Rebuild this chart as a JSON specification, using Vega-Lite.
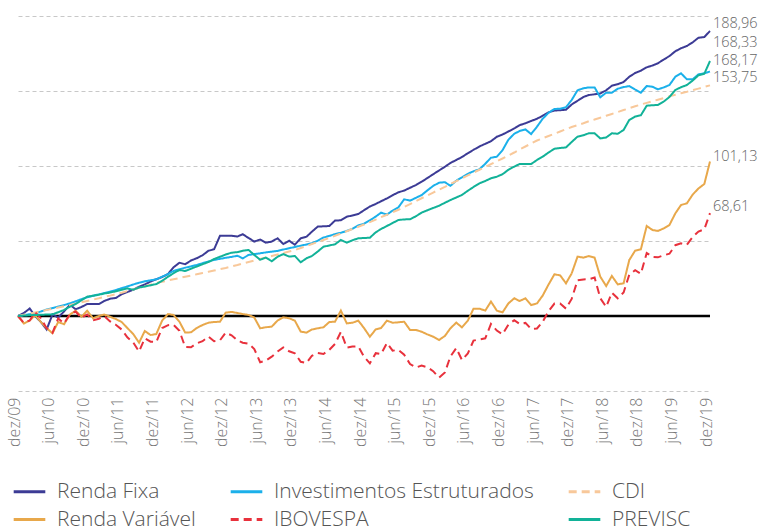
{
"$schema": "https://vega.github.io/schema/vega-lite/v6.json",
"width": 692, "height": 375,
"autosize": {"type": "none"},
"padding": {"left": 18, "top": 16, "right": 62, "bottom": 140},
"background": "white",
"config": {"view": {"stroke": null}, "font": "Open Sans", "axisX": {"labelOverlap": false, "labelBound": false, "labelFlush": false}},
"encoding": {
  "x": {"field": "d", "type": "temporal",
        "scale": {"type": "utc", "nice": false, "domain": [1259625600000, 1575158400000]},
        "axis": {"title": null, "grid": false, "domain": false, "ticks": false, "tickSize": 0,
                 "values": [1259625600000, 1275350400000, 1291161600000, 1306886400000, 1322697600000, 1338508800000, 1354320000000, 1370044800000, 1385856000000, 1401580800000, 1417392000000, 1433116800000, 1448928000000, 1464739200000, 1480550400000, 1496275200000, 1512086400000, 1527811200000, 1543622400000, 1559347200000, 1575158400000],
                 "labelExpr": "(utcmonth(datum.value) == 11 ? 'dez' : 'jun') + '/' + utcFormat(datum.value, '%y')",
                 "labelAngle": -90, "labelPadding": 6, "labelOffset": -4, "labelFont": "Open Sans", "labelFontSize": 16, "labelFontWeight": 300, "labelColor": "#777777", "labelOverlap": false, "labelFlush": false, "labelBound": false, "labelSeparation": 0}}
},
"layer": [
{"data": {"values": [{"d": "2009-12", "d2": "2019-12"}]},
 "mark": {"type": "rule", "color": "#000000", "strokeWidth": 2.5},
 "encoding": {"x2": {"field": "d2"}, "y": {"datum": 0, "type": "quantitative"}}},
{"data": {"values": [
{"d":"2009-12","rf":0,"ie":0,"cdi":0,"rv":0,"ibov":0,"prev":0},
{"d":"2010-01","rf":2,"ie":0.6,"cdi":0.8,"rv":-5,"ibov":-4.6,"prev":0.3},
{"d":"2010-02","rf":5,"ie":1.2,"cdi":1.6,"rv":-3,"ibov":-3.0,"prev":0.5},
{"d":"2010-03","rf":0,"ie":1.8,"cdi":2.4,"rv":0.5,"ibov":2.6,"prev":0.7},
{"d":"2010-04","rf":-4,"ie":3,"cdi":3.2,"rv":-4,"ibov":-1.5,"prev":0.8},
{"d":"2010-05","rf":-9,"ie":4.3,"cdi":4.0,"rv":-8,"ibov":-8.1,"prev":1},
{"d":"2010-06","rf":1,"ie":5.3,"cdi":4.8,"rv":-11.5,"ibov":-11.2,"prev":1.1},
{"d":"2010-07","rf":-1,"ie":6.3,"cdi":5.6,"rv":-4,"ibov":-1.6,"prev":2.5},
{"d":"2010-08","rf":3,"ie":7.3,"cdi":6.5,"rv":-5.5,"ibov":-5.0,"prev":4},
{"d":"2010-09","rf":7.5,"ie":8.4,"cdi":7.3,"rv":1,"ibov":1.2,"prev":6.2},
{"d":"2010-10","rf":4.5,"ie":9.8,"cdi":8.2,"rv":3.5,"ibov":3.0,"prev":8},
{"d":"2010-11","rf":6,"ie":11.2,"cdi":9.1,"rv":-0.5,"ibov":-1.3,"prev":10.5},
{"d":"2010-12","rf":8,"ie":12.5,"cdi":10.0,"rv":3.5,"ibov":1.0,"prev":12.9},
{"d":"2011-01","rf":8,"ie":13.5,"cdi":10.9,"rv":-1.5,"ibov":-2.9,"prev":13.5},
{"d":"2011-02","rf":8,"ie":14.4,"cdi":11.8,"rv":0,"ibov":-1.8,"prev":14.2},
{"d":"2011-03","rf":10,"ie":15.3,"cdi":12.7,"rv":1,"ibov":0.0,"prev":15},
{"d":"2011-04","rf":11.5,"ie":16.2,"cdi":13.6,"rv":-0.5,"ibov":-3.6,"prev":15.6},
{"d":"2011-05","rf":12,"ie":17.3,"cdi":14.6,"rv":-2,"ibov":-5.8,"prev":16.5},
{"d":"2011-06","rf":14.5,"ie":18.6,"cdi":15.5,"rv":-4,"ibov":-9.0,"prev":17.5},
{"d":"2011-07","rf":16,"ie":19.7,"cdi":16.6,"rv":-8,"ibov":-14.2,"prev":18.4},
{"d":"2011-08","rf":17.5,"ie":21,"cdi":17.7,"rv":-12,"ibov":-17.6,"prev":17.5},
{"d":"2011-09","rf":19.5,"ie":22.2,"cdi":18.8,"rv":-17.8,"ibov":-23.7,"prev":19},
{"d":"2011-10","rf":21,"ie":23.1,"cdi":19.8,"rv":-10,"ibov":-14.9,"prev":19.6},
{"d":"2011-11","rf":23,"ie":23.8,"cdi":20.9,"rv":-12.7,"ibov":-17.1,"prev":20.5},
{"d":"2011-12","rf":24.5,"ie":24.4,"cdi":22.0,"rv":-12,"ibov":-17.3,"prev":21.3},
{"d":"2012-01","rf":26,"ie":26.2,"cdi":22.8,"rv":-3,"ibov":-8.0,"prev":23.5},
{"d":"2012-02","rf":28,"ie":28,"cdi":23.7,"rv":1.3,"ibov":-6.1,"prev":26.2},
{"d":"2012-03","rf":32.5,"ie":30,"cdi":24.5,"rv":0.7,"ibov":-5.9,"prev":28.5},
{"d":"2012-04","rf":35.5,"ie":31.2,"cdi":25.3,"rv":-3.8,"ibov":-9.9,"prev":30.7},
{"d":"2012-05","rf":34.5,"ie":32.2,"cdi":26.2,"rv":-11,"ibov":-20.6,"prev":30},
{"d":"2012-06","rf":37,"ie":33.1,"cdi":27.0,"rv":-10.9,"ibov":-20.8,"prev":31.5},
{"d":"2012-07","rf":38.5,"ie":34,"cdi":27.8,"rv":-8,"ibov":-18.2,"prev":33},
{"d":"2012-08","rf":40.5,"ie":35.2,"cdi":28.7,"rv":-6,"ibov":-16.8,"prev":34.5},
{"d":"2012-09","rf":43.5,"ie":36.3,"cdi":29.5,"rv":-4.5,"ibov":-13.7,"prev":36},
{"d":"2012-10","rf":44.5,"ie":37.4,"cdi":30.3,"rv":-4,"ibov":-16.8,"prev":38},
{"d":"2012-11","rf":53.5,"ie":38.1,"cdi":31.2,"rv":-3.8,"ibov":-16.2,"prev":39.5},
{"d":"2012-12","rf":53.5,"ie":38.8,"cdi":32.0,"rv":2.2,"ibov":-11.1,"prev":41},
{"d":"2013-01","rf":53.5,"ie":39.4,"cdi":33.0,"rv":2.7,"ibov":-12.9,"prev":42.2},
{"d":"2013-02","rf":53,"ie":40.2,"cdi":34.0,"rv":2,"ibov":-16.3,"prev":42.6},
{"d":"2013-03","rf":54.5,"ie":38.4,"cdi":35.0,"rv":1.3,"ibov":-17.8,"prev":43.5},
{"d":"2013-04","rf":52,"ie":40.7,"cdi":36.0,"rv":0.7,"ibov":-18.5,"prev":44},
{"d":"2013-05","rf":49.6,"ie":41.3,"cdi":37.0,"rv":-1,"ibov":-22.0,"prev":40.7},
{"d":"2013-06","rf":51,"ie":41.8,"cdi":38.0,"rv":-8.2,"ibov":-30.8,"prev":37.5},
{"d":"2013-07","rf":48.9,"ie":42.4,"cdi":39.0,"rv":-7.5,"ibov":-29.7,"prev":39},
{"d":"2013-08","rf":49.6,"ie":42.9,"cdi":40.0,"rv":-7.1,"ibov":-27.1,"prev":36.5},
{"d":"2013-09","rf":51.8,"ie":43.4,"cdi":41.0,"rv":-3,"ibov":-23.7,"prev":39.5},
{"d":"2013-10","rf":48,"ie":44.3,"cdi":42.0,"rv":-0.9,"ibov":-20.9,"prev":41.3},
{"d":"2013-11","rf":50.2,"ie":45.2,"cdi":43.0,"rv":-1.5,"ibov":-23.5,"prev":39.6},
{"d":"2013-12","rf":47.5,"ie":46,"cdi":44.0,"rv":-3.1,"ibov":-24.9,"prev":40},
{"d":"2014-01","rf":51.8,"ie":46.9,"cdi":45.3,"rv":-10.4,"ibov":-30.5,"prev":35.8},
{"d":"2014-02","rf":52.9,"ie":47.7,"cdi":46.6,"rv":-11.1,"ibov":-31.3,"prev":38.5},
{"d":"2014-03","rf":56.2,"ie":48.5,"cdi":48.0,"rv":-9,"ibov":-26.5,"prev":40},
{"d":"2014-04","rf":59.6,"ie":50.2,"cdi":49.3,"rv":-8.2,"ibov":-24.7,"prev":43},
{"d":"2014-05","rf":59.8,"ie":52.3,"cdi":50.7,"rv":-7.5,"ibov":-25.3,"prev":46.2},
{"d":"2014-06","rf":60,"ie":53.4,"cdi":52.0,"rv":-4,"ibov":-22.5,"prev":47},
{"d":"2014-07","rf":63.6,"ie":54.6,"cdi":53.5,"rv":-3.8,"ibov":-18.6,"prev":47.8},
{"d":"2014-08","rf":63.8,"ie":55.5,"cdi":55.0,"rv":3.6,"ibov":-10.6,"prev":50.7},
{"d":"2014-09","rf":66.2,"ie":56.7,"cdi":56.5,"rv":-4.9,"ibov":-21.1,"prev":48.9},
{"d":"2014-10","rf":67,"ie":58.1,"cdi":58.0,"rv":-4.5,"ibov":-20.4,"prev":50.5},
{"d":"2014-11","rf":68,"ie":60.4,"cdi":59.5,"rv":-3.1,"ibov":-20.2,"prev":51.8},
{"d":"2014-12","rf":70.5,"ie":61.5,"cdi":61.0,"rv":-8,"ibov":-27.1,"prev":52},
{"d":"2015-01","rf":73,"ie":63.8,"cdi":62.6,"rv":-13.8,"ibov":-31.6,"prev":52.2},
{"d":"2015-02","rf":74.7,"ie":66.3,"cdi":64.3,"rv":-8.9,"ibov":-24.8,"prev":55.8},
{"d":"2015-03","rf":76.5,"ie":68.9,"cdi":65.9,"rv":-8,"ibov":-25.4,"prev":58},
{"d":"2015-04","rf":78.4,"ie":67.6,"cdi":67.5,"rv":-3.1,"ibov":-18.0,"prev":60},
{"d":"2015-05","rf":80.5,"ie":70.3,"cdi":69.2,"rv":-4.5,"ibov":-23.1,"prev":62},
{"d":"2015-06","rf":82.5,"ie":72.5,"cdi":70.8,"rv":-4.2,"ibov":-22.6,"prev":64},
{"d":"2015-07","rf":83.6,"ie":77.8,"cdi":72.7,"rv":-3.8,"ibov":-25.8,"prev":64.4},
{"d":"2015-08","rf":85.5,"ie":76.9,"cdi":74.6,"rv":-9.3,"ibov":-32.0,"prev":64.5},
{"d":"2015-09","rf":87.3,"ie":78.8,"cdi":76.6,"rv":-9.3,"ibov":-34.3,"prev":66.5},
{"d":"2015-10","rf":89.5,"ie":80.6,"cdi":78.5,"rv":-10.5,"ibov":-33.1,"prev":68.9},
{"d":"2015-11","rf":92,"ie":83.8,"cdi":80.4,"rv":-12.3,"ibov":-34.2,"prev":70.5},
{"d":"2015-12","rf":94.5,"ie":86.7,"cdi":82.3,"rv":-13.8,"ibov":-36.8,"prev":72},
{"d":"2016-01","rf":97,"ie":88.9,"cdi":84.2,"rv":-16,"ibov":-41.1,"prev":73.5},
{"d":"2016-02","rf":99.5,"ie":89.2,"cdi":86.1,"rv":-13.3,"ibov":-37.6,"prev":75.5},
{"d":"2016-03","rf":102,"ie":86.8,"cdi":88.0,"rv":-8.2,"ibov":-27.0,"prev":77.3},
{"d":"2016-04","rf":104,"ie":90.2,"cdi":89.9,"rv":-4.4,"ibov":-21.4,"prev":79},
{"d":"2016-05","rf":106,"ie":92.4,"cdi":91.8,"rv":-7.6,"ibov":-29.3,"prev":80.7},
{"d":"2016-06","rf":108.5,"ie":94.8,"cdi":93.7,"rv":-3.1,"ibov":-24.9,"prev":83.5},
{"d":"2016-07","rf":110.8,"ie":96.5,"cdi":95.6,"rv":4.9,"ibov":-16.4,"prev":86},
{"d":"2016-08","rf":113,"ie":97.8,"cdi":97.5,"rv":4.9,"ibov":-15.6,"prev":88.4},
{"d":"2016-09","rf":114.8,"ie":101.5,"cdi":99.4,"rv":3.6,"ibov":-14.9,"prev":90},
{"d":"2016-10","rf":116.5,"ie":105.5,"cdi":101.3,"rv":9.6,"ibov":-5.3,"prev":91.8},
{"d":"2016-11","rf":119.5,"ie":106.2,"cdi":103.2,"rv":3.6,"ibov":-9.7,"prev":92.9},
{"d":"2016-12","rf":121,"ie":110.5,"cdi":105.0,"rv":2.4,"ibov":-12.2,"prev":94.5},
{"d":"2017-01","rf":123,"ie":117.5,"cdi":107.0,"rv":8.4,"ibov":-5.7,"prev":97.5},
{"d":"2017-02","rf":125,"ie":121.5,"cdi":109.0,"rv":11.8,"ibov":-2.8,"prev":99.6},
{"d":"2017-03","rf":127.2,"ie":123.3,"cdi":111.0,"rv":10,"ibov":-5.3,"prev":101.3},
{"d":"2017-04","rf":128.5,"ie":124.4,"cdi":113.0,"rv":11.8,"ibov":-4.6,"prev":101.3},
{"d":"2017-05","rf":130,"ie":121.3,"cdi":115.0,"rv":7.3,"ibov":-8.6,"prev":101.3},
{"d":"2017-06","rf":131.5,"ie":126.2,"cdi":117.0,"rv":8.4,"ibov":-8.3,"prev":104},
{"d":"2017-07","rf":133.5,"ie":131.5,"cdi":118.5,"rv":13.6,"ibov":-3.9,"prev":106.2},
{"d":"2017-08","rf":135.8,"ie":135.5,"cdi":120.0,"rv":21,"ibov":3.3,"prev":109},
{"d":"2017-09","rf":137,"ie":138,"cdi":121.5,"rv":27.8,"ibov":8.3,"prev":111.5},
{"d":"2017-10","rf":137.2,"ie":138.2,"cdi":123.0,"rv":27.1,"ibov":8.3,"prev":112},
{"d":"2017-11","rf":137.5,"ie":139.2,"cdi":124.5,"rv":21.8,"ibov":4.9,"prev":112.4},
{"d":"2017-12","rf":141,"ie":144,"cdi":126.0,"rv":28.4,"ibov":11.4,"prev":116},
{"d":"2018-01","rf":143.5,"ie":150.5,"cdi":127.2,"rv":39.6,"ibov":23.8,"prev":119.6},
{"d":"2018-02","rf":146,"ie":151.8,"cdi":128.5,"rv":38.9,"ibov":24.4,"prev":120.5},
{"d":"2018-03","rf":147.3,"ie":152.4,"cdi":129.8,"rv":40,"ibov":24.5,"prev":121.8},
{"d":"2018-04","rf":147.8,"ie":152.4,"cdi":131.0,"rv":38.9,"ibov":25.6,"prev":121.8},
{"d":"2018-05","rf":148.3,"ie":145.8,"cdi":132.2,"rv":26.2,"ibov":11.9,"prev":118.4},
{"d":"2018-06","rf":150.5,"ie":148.9,"cdi":133.5,"rv":20,"ibov":6.1,"prev":119},
{"d":"2018-07","rf":153.5,"ie":148.9,"cdi":134.7,"rv":26.7,"ibov":15.5,"prev":121.8},
{"d":"2018-08","rf":154.5,"ie":151.5,"cdi":136.0,"rv":21.1,"ibov":11.8,"prev":121.5},
{"d":"2018-09","rf":156,"ie":152.6,"cdi":137.3,"rv":21.8,"ibov":15.7,"prev":124},
{"d":"2018-10","rf":159.5,"ie":153.3,"cdi":138.5,"rv":37.3,"ibov":27.5,"prev":130.7},
{"d":"2018-11","rf":162,"ie":151,"cdi":139.8,"rv":43.6,"ibov":30.5,"prev":133},
{"d":"2018-12","rf":163.5,"ie":148.9,"cdi":141.0,"rv":44.4,"ibov":28.1,"prev":133.8},
{"d":"2019-01","rf":165.8,"ie":153.3,"cdi":142.1,"rv":60,"ibov":42.0,"prev":140.2},
{"d":"2019-02","rf":167,"ie":152.8,"cdi":143.2,"rv":57.3,"ibov":39.4,"prev":140.5},
{"d":"2019-03","rf":168.5,"ie":151.1,"cdi":144.2,"rv":56.7,"ibov":39.1,"prev":140.7},
{"d":"2019-04","rf":171,"ie":152.4,"cdi":145.3,"rv":58.4,"ibov":40.5,"prev":143},
{"d":"2019-05","rf":173.3,"ie":154,"cdi":146.4,"rv":60.7,"ibov":41.5,"prev":146},
{"d":"2019-06","rf":176.5,"ie":159.5,"cdi":147.5,"rv":68.4,"ibov":47.2,"prev":150.7},
{"d":"2019-07","rf":178.5,"ie":161.8,"cdi":148.5,"rv":74,"ibov":48.4,"prev":152.5},
{"d":"2019-08","rf":180,"ie":157.8,"cdi":149.5,"rv":75.1,"ibov":47.5,"prev":154},
{"d":"2019-09","rf":182.5,"ie":157.8,"cdi":150.6,"rv":81,"ibov":52.7,"prev":157},
{"d":"2019-10","rf":185.5,"ie":161.1,"cdi":151.6,"rv":85,"ibov":56.3,"prev":160.5},
{"d":"2019-11","rf":186,"ie":161.8,"cdi":152.7,"rv":88,"ibov":57.8,"prev":161.5},
{"d":"2019-12","rf":190,"ie":163,"cdi":153.75,"rv":103,"ibov":68.6,"prev":170}
]},
 "transform": [{"fold": ["rf", "ie", "cdi", "rv", "ibov", "prev"], "as": ["serie", "valor"]}],
 "mark": {"type": "line", "strokeWidth": 2},
 "encoding": {
  "y": {"field": "valor", "type": "quantitative",
        "scale": {"domain": [-50, 200], "nice": false, "zero": false},
        "axis": {"title": null, "values": [-50, 0, 50, 100, 150, 200], "grid": true, "gridDash": [4, 3], "gridColor": "#c8c8c8", "gridWidth": 1, "labels": false, "ticks": false, "domain": false}},
  "color": {"field": "serie", "type": "nominal",
            "scale": {"domain": ["rf", "ie", "cdi", "rv", "ibov", "prev"], "range": ["#3c3b95", "#1bb0ea", "#f8c89a", "#e8a84b", "#e8313c", "#12b298"]},
            "legend": {"title": null, "orient": "none", "legendX": -6, "legendY": 458, "direction": "horizontal", "columns": 3, "gridAlign": "each", "columnPadding": 28, "rowPadding": 0,
                       "symbolType": "stroke", "symbolSize": 1000, "symbolStrokeWidth": 3, "labelFont": "Open Sans", "labelFontSize": 21, "labelFontWeight": 300, "labelColor": "#555555", "labelOffset": 10, "labelLimit": 400,
                       "labelExpr": "datum.label == 'rf' ? 'Renda Fixa' : datum.label == 'ie' ? 'Investimentos Estruturados' : datum.label == 'cdi' ? 'CDI' : datum.label == 'rv' ? 'Renda Variável' : datum.label == 'ibov' ? 'IBOVESPA' : 'PREVISC'"}},
  "strokeDash": {"field": "serie", "type": "nominal",
            "scale": {"domain": ["rf", "ie", "cdi", "rv", "ibov", "prev"], "range": [[1, 0], [1, 0], [8, 5], [1, 0], [8, 5], [1, 0]]},
            "legend": {"title": null, "orient": "none", "legendX": -6, "legendY": 458, "direction": "horizontal", "columns": 3, "gridAlign": "each", "columnPadding": 28, "rowPadding": 0,
                       "symbolType": "stroke", "symbolSize": 1000, "symbolStrokeWidth": 3, "labelFont": "Open Sans", "labelFontSize": 21, "labelFontWeight": 300, "labelColor": "#555555", "labelOffset": 10, "labelLimit": 400,
                       "labelExpr": "datum.label == 'rf' ? 'Renda Fixa' : datum.label == 'ie' ? 'Investimentos Estruturados' : datum.label == 'cdi' ? 'CDI' : datum.label == 'rv' ? 'Renda Variável' : datum.label == 'ibov' ? 'IBOVESPA' : 'PREVISC'"}}
 }},
{"data": {"values": [
  {"d": "2019-12", "t": "188,96", "p": 195},
  {"d": "2019-12", "t": "168,33", "p": 182},
  {"d": "2019-12", "t": "168,17", "p": 170},
  {"d": "2019-12", "t": "153,75", "p": 158.5},
  {"d": "2019-12", "t": "101,13", "p": 105.8},
  {"d": "2019-12", "t": "68,61", "p": 72.9}]},
 "mark": {"type": "text", "align": "left", "baseline": "middle", "dx": 3, "font": "Open Sans", "fontSize": 14.5, "fontWeight": 300, "color": "#666666"},
 "encoding": {"y": {"field": "p", "type": "quantitative"}, "text": {"field": "t"}}}
]
}
